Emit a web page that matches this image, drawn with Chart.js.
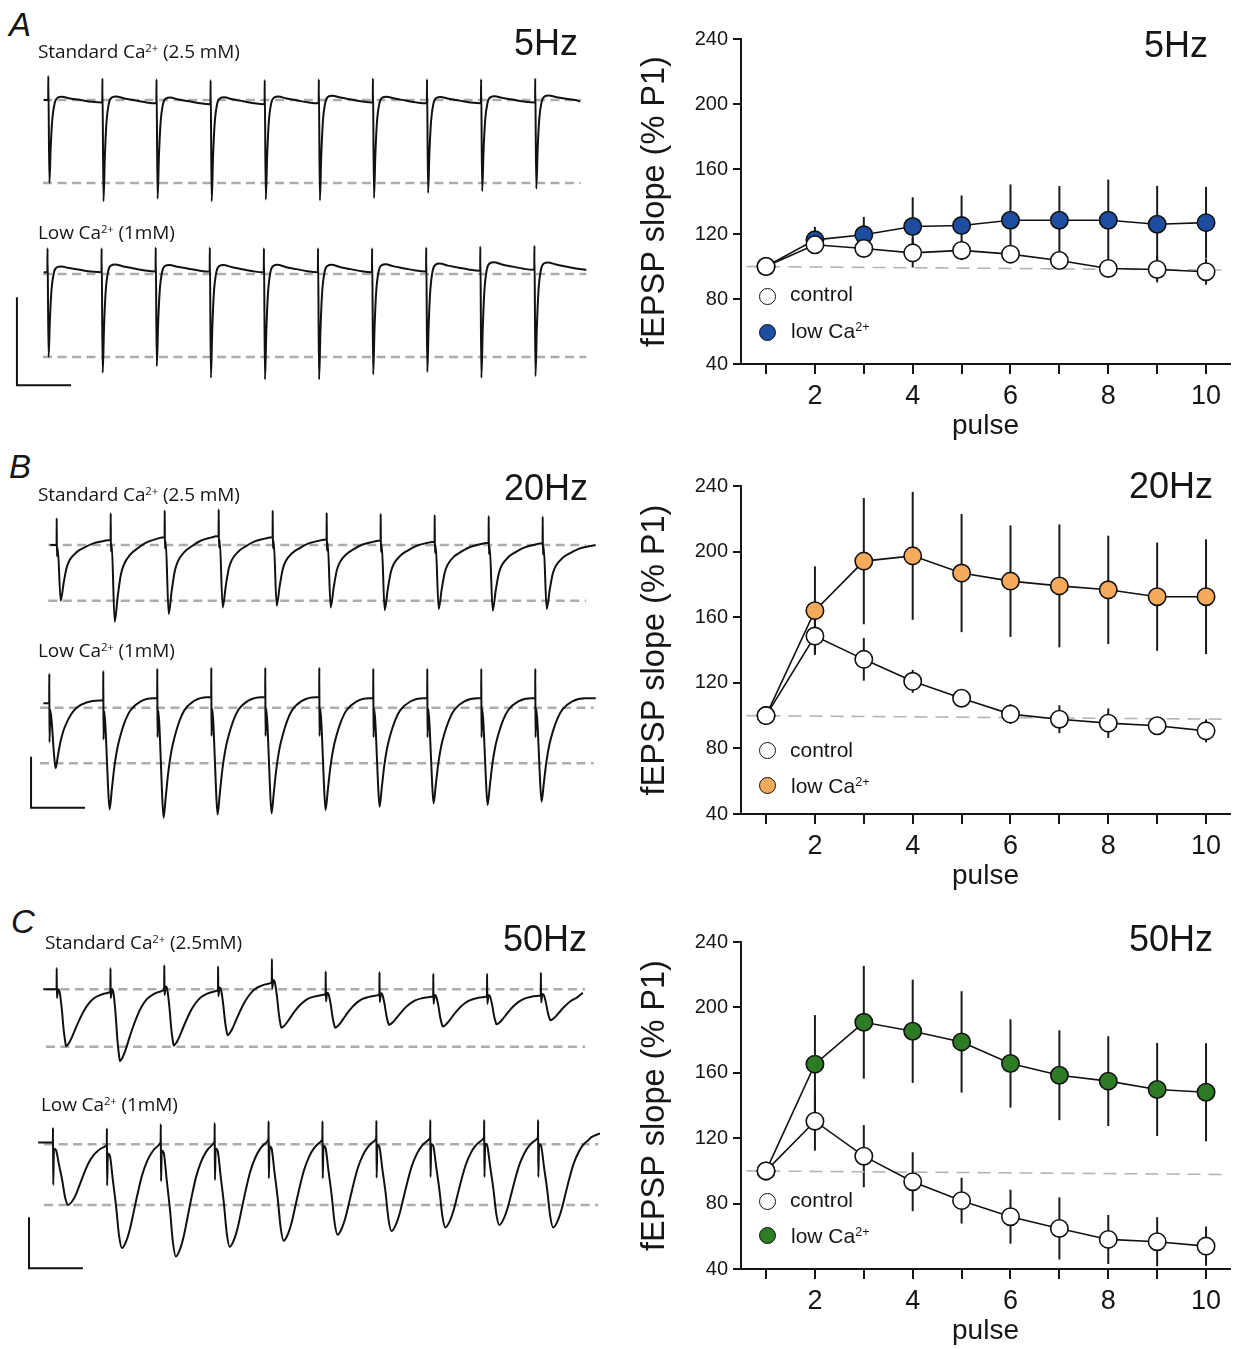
<!DOCTYPE html>
<html><head><meta charset="utf-8">
<script src="https://cdn.jsdelivr.net/npm/chart.js@4.4.1/dist/chart.umd.min.js"></script>
<style>
body{margin:0;background:#fff;}
#fig{position:relative;width:1243px;height:1349px;overflow:hidden;background:#fff;font-family:"Liberation Sans",Arial,sans-serif;color:#161616;}
canvas{position:absolute;}
.t{position:absolute;white-space:nowrap;line-height:1;}
.panel{font-style:italic;font-size:33px;}
.cond{font-family:"Open Sans",sans-serif;font-size:19px;letter-spacing:-0.1px;}
.cond sup,.leg sup{font-size:0.6em;position:relative;top:-0.55em;vertical-align:baseline;line-height:0;}
.hz{font-size:36px;}
.leg{font-size:21px;}
.dot{position:absolute;width:17px;height:17px;box-sizing:border-box;border-radius:50%;border:1.6px solid #111;}
</style></head>
<body><div id="fig">
<canvas id="tStd5" width="600" height="180" style="left:0;top:55px"></canvas>
<canvas id="tLow5" width="600" height="180" style="left:0;top:229px"></canvas>
<canvas id="tStd20" width="600" height="180" style="left:0;top:500px"></canvas>
<canvas id="tLow20" width="600" height="180" style="left:0;top:663px"></canvas>
<canvas id="tStd50" width="600" height="180" style="left:0;top:944px"></canvas>
<canvas id="tLow50" width="600" height="180" style="left:0;top:1099px"></canvas>
<canvas id="r5" width="611" height="426" style="left:632px;top:19px"></canvas>
<canvas id="r20" width="611" height="429" style="left:632px;top:466px"></canvas>
<canvas id="r50" width="611" height="428" style="left:632px;top:922px"></canvas>

<div class="t panel" style="left:9px;top:8px">A</div>
<div class="t panel" style="left:9px;top:450px">B</div>
<div class="t panel" style="left:11px;top:905px">C</div>
<div class="t cond" style="left:38px;top:42px">Standard Ca<sup>2+</sup> (2.5 mM)</div>
<div class="t cond" style="left:38px;top:223px">Low Ca<sup>2+</sup> (1mM)</div>
<div class="t cond" style="left:38px;top:485px">Standard Ca<sup>2+</sup> (2.5 mM)</div>
<div class="t cond" style="left:38px;top:641px">Low Ca<sup>2+</sup> (1mM)</div>
<div class="t cond" style="left:45px;top:933px">Standard Ca<sup>2+</sup> (2.5mM)</div>
<div class="t cond" style="left:41px;top:1095px">Low Ca<sup>2+</sup> (1mM)</div>
<div class="t hz" style="right:665px;top:25px">5Hz</div>
<div class="t hz" style="right:655px;top:470px">20Hz</div>
<div class="t hz" style="right:656px;top:921px">50Hz</div>
<div class="t hz" style="right:35px;top:27px">5Hz</div>
<div class="t hz" style="right:30px;top:468px">20Hz</div>
<div class="t hz" style="right:30px;top:921px">50Hz</div>

<div class="dot" style="left:759px;top:288px;background:#fff"></div>
<div class="t leg" style="left:790px;top:283px">control</div>
<div class="dot" id="d5" style="left:759px;top:324px"></div>
<div class="t leg" style="left:791px;top:320px">low Ca<sup>2+</sup></div>
<div class="dot" style="left:759px;top:742px;background:#fff"></div>
<div class="t leg" style="left:790px;top:739px">control</div>
<div class="dot" id="d20" style="left:759px;top:777px"></div>
<div class="t leg" style="left:791px;top:775px">low Ca<sup>2+</sup></div>
<div class="dot" style="left:759px;top:1193px;background:#fff"></div>
<div class="t leg" style="left:790px;top:1189px">control</div>
<div class="dot" id="d50" style="left:759px;top:1227px"></div>
<div class="t leg" style="left:791px;top:1225px">low Ca<sup>2+</sup></div>
</div>
<script>
// ---------- summary data (fEPSP slope, % of pulse 1) ----------
const pulses = [1,2,3,4,5,6,7,8,9,10];
const yTicks = [40,80,120,160,200,240];
const xTickLabels = ['', '2', '', '4', '', '6', '', '8', '', '10'];

const ctrl5    = [100,113.4,111.1,108.4,109.9,107.6,103.7,98.8,98.2,96.8];
const ctrl5Err = [0,5,4,9,6,5,5,5,8,8];
const low5     = [100,116.4,119.5,124.6,125.2,128.5,128.5,128.5,126,127];
const low5Err  = [0,8,11,18,18.5,22,21,25,23.6,22];

const ctrl20    = [100,148.5,134.3,120.9,110.6,100.9,97.8,95.4,93.8,90.7];
const ctrl20Err = [0,11,13,7,3,6,8.5,9,3,7];
const low20     = [100,164,194.2,197.4,186.9,182,179.1,176.7,172.5,172.5];
const low20Err  = [0,27,38.5,39,36,34,37.5,33,33,35];

const ctrl50    = [100,130.4,109,93.4,81.8,72,64.8,58.1,56.7,54];
const ctrl50Err = [0,18,19,18,14,16.5,19,15,15,12];
const low50     = [100,165.3,190.9,185.4,178.9,165.7,158.5,154.9,149.8,148.1];
const low50Err  = [0,30,34.5,31.6,31,27,27.5,27.5,28.5,30];

const refLineX = [0.6,10.45];
const refLineY = [100,97.8];
const lowColors = ['#1c4d9e','#f6aa5c','#2e7b25'];

// ---------- example traces (amplitude in units of the lower guide line) ----------
const intervalMs = [200,50,20];              // 5, 20, 50 Hz
const troughStd5  = [1.0,1.22,1.19,1.22,1.2,1.21,1.18,1.12,1.1,1.07];
const troughLow5  = [1.0,1.19,1.11,1.25,1.27,1.27,1.21,1.18,1.25,1.23];
const troughStd20 = [1.0,1.38,1.24,1.12,1.09,1.12,1.17,1.15,1.18,1.15];
const troughLow20 = [1.09,1.83,1.98,1.92,1.9,1.84,1.78,1.72,1.75,1.69];
const troughStd50 = [0.99,1.25,0.98,0.8,0.67,0.67,0.62,0.65,0.61,0.54];
const troughLow50 = [1.0,1.71,1.85,1.69,1.59,1.49,1.43,1.37,1.33,1.37];

const restStd5  = [-0.03,-0.04,-0.05,-0.05,-0.04,-0.03,-0.04,-0.04,-0.03,-0.02];
const restLow5  = [0.02,0.03,0.03,0.02,0.02,0.02,0.03,0.04,0.05,0.05];
const restStd20 = [0.09,0.14,0.16,0.14,0.1,0.08,0.06,0.04,0.03,0.0];
const restLow20 = [0.13,0.17,0.19,0.19,0.19,0.17,0.17,0.17,0.17,0.17];
const restStd50 = [0.0,0.05,0.03,0.16,-0.06,-0.07,-0.1,-0.1,-0.08,-0.06];
const restLow50 = [0.02,0.09,0.11,0.14,0.14,0.15,0.16,0.16,0.16,0.18];
const preLevel  = [0,0.02,0,0.08,0,0.03];     // std5, low5, std20, low20, std50, low50

// stimulus artifact [up, down]
const artStd5=[0.29,0], artLow5=[0.29,0], artStd20=[0.48,0.2], artLow20=[0.53,0.7], artStd50=[0.37,0.15], artLow50=[0.24,0.7];

// response shape after each stimulus: [ms after stimulus, fraction of trough]
const kernel5 = [[4,1],[9,0.55],[15,0.2],[24,0],[35,-0.06],[50,-0.07],[80,-0.05],[120,-0.03],[160,-0.01],[198,0]];
const kernelStd20 = [[0.9,0.05],[3.7,1],[6.5,0.7],[9.3,0.45],[12,0.33],[18.5,0.2],[25,0.13],[33.3,0.06],[42.6,0.02],[49.5,0]];
const kernelLow20 = [[0.9,0.1],[2.3,0.3],[4.2,0.75],[5.8,1],[7.9,0.82],[10.2,0.62],[13,0.45],[16,0.33],[20.4,0.2],[25,0.11],[34.3,0.03],[46.3,0],[49.5,0]];
const kernelStd50 = [[0.56,0],[1.1,0.05],[1.9,0.35],[2.6,0.72],[3.2,0.93],[3.5,1],[4.5,0.95],[5.6,0.85],[7.1,0.68],[8.6,0.52],[10.1,0.38],[11.6,0.27],[13.5,0.17],[15.7,0.11],[18.3,0.07],[19.8,0.05]];
const kernelLow50 = [[0.37,0.1],[1.1,0.12],[2.2,0.35],[3.4,0.6],[4.5,0.88],[5.6,1],[7.1,0.94],[8.6,0.82],[10.1,0.65],[11.6,0.48],[13.1,0.33],[15,0.2],[16.8,0.12],[18.7,0.07],[19.8,0.04]];

// [start, end] of trace and of guide lines, ms from first stimulus
const spanStd5=[-16,1966], spanLow5=[-14,1992], spanStd20=[-6,499], spanLow20=[-5.5,506], spanStd50=[-5,195.6], spanLow50=[-5.5,203];
const dashStd5=[-19.6,1969], dashLow5=[-16.6,1992], dashStd20=[-7.8,490], dashLow20=[-8.6,504], dashStd50=[-4,196.4], dashLow50=[-3.3,202.3];
// scale bars [x ms, y units, length ms, length units]
const bar5=[-113,-1.34,200,1.06], bar20=[-16.9,-1.8,50,0.92], bar50=[-8.9,-2.04,20,0.84];

// ---------- layout (pixels) ----------
const traceLayout = [
  {id:'tStd5', top:55, base:100, unit:83, p1:48.3, step:54.1, f:0, tr:troughStd5, rest:restStd5, art:artStd5, k:kernel5, span:spanStd5, dash:dashStd5},
  {id:'tLow5', top:229, base:274, unit:83, p1:47.5, step:54.1, f:0, tr:troughLow5, rest:restLow5, art:artLow5, k:kernel5, span:spanLow5, dash:dashLow5, bar:bar5},
  {id:'tStd20', top:500, base:545, unit:55.7, p1:56.7, step:54, f:1, tr:troughStd20, rest:restStd20, art:artStd20, k:kernelStd20, span:spanStd20, dash:dashStd20},
  {id:'tLow20', top:663, base:707.7, unit:55.6, p1:49.3, step:54, f:1, tr:troughLow20, rest:restLow20, art:artLow20, k:kernelLow20, span:spanLow20, dash:dashLow20, bar:bar20},
  {id:'tStd50', top:944, base:989.3, unit:57.4, p1:56.7, step:53.8, f:2, tr:troughStd50, rest:restStd50, art:artStd50, k:kernelStd50, span:spanStd50, dash:dashStd50},
  {id:'tLow50', top:1099, base:1144.3, unit:60.7, p1:53, step:53.9, f:2, tr:troughLow50, rest:restLow50, art:artLow50, k:kernelLow50, span:spanLow50, dash:dashLow50, bar:bar50}
];

function buildTrace(L, pre) {
  const iv = intervalMs[L.f];
  const pts = [{x:L.span[0], y:pre}];
  let lastE = pre;
  for (let i=0;i<L.tr.length;i++){
    const t0 = i*iv, s = i===0 ? pre : L.rest[i-1], e = L.rest[i], d = L.tr[i];
    pts.push({x:t0-0.002*iv, y:s});
    pts.push({x:t0, y:s+L.art[0]});
    if (L.art[1]) pts.push({x:t0+0.004*iv, y:s-L.art[1]});
    let after=false;
    for (const [dt,f] of L.k){
      const t=t0+dt; if (t>L.span[1]) break;
      const lvl = after ? e : s;
      pts.push({x:t, y:lvl + f*(-d-lvl)});
      if (f===1) after=true;
    }
    lastE = e;
  }
  const last = pts[pts.length-1];
  if (last.x < L.span[1]) pts.push({x:L.span[1], y:lastE});
  return pts;
}

traceLayout.forEach((L, idx) => {
  const cv = document.getElementById(L.id);
  const iv = intervalMs[L.f];
  const msPerPx = iv / L.step;
  const H = cv.height;
  const ds = [];
  ds.push({data:buildTrace(L, preLevel[idx]), borderColor:'#111', borderWidth:2, pointRadius:0, cubicInterpolationMode:'monotone', order:0});
  [0,-1].forEach(v => ds.push({data:[{x:L.dash[0],y:v},{x:L.dash[1],y:v}], borderColor:'#acacac', borderWidth:2.6, borderDash:[9,5.5], pointRadius:0, order:5}));
  if (L.bar) {
    const b = L.bar;
    ds.push({data:[{x:b[0],y:b[1]+b[3]},{x:b[0],y:b[1]},{x:b[0]+b[2],y:b[1]}], borderColor:'#111', borderWidth:2, pointRadius:0, order:1});
  }
  new Chart(cv, {
    type:'line',
    data:{datasets:ds},
    options:{
      responsive:false, animation:false, events:[],
      layout:{padding:0},
      plugins:{legend:{display:false}, tooltip:{enabled:false}},
      scales:{
        x:{type:'linear', display:false, min:-L.p1*msPerPx, max:(cv.width-L.p1)*msPerPx},
        y:{type:'linear', display:false, min:-(L.top+H-L.base)/L.unit, max:(L.base-L.top)/L.unit}
      }
    }
  });
});

// ---------- summary charts ----------
const errorBars = {
  id:'errorBars',
  beforeDatasetsDraw(chart){
    const {ctx, scales:{x,y}} = chart;
    ctx.save();
    ctx.strokeStyle = '#1a1a1a'; ctx.lineWidth = 2;
    chart.data.datasets.forEach(ds => {
      if (!ds.errors) return;
      ds.data.forEach((p,i) => {
        const e = ds.errors[i]; if (!e) return;
        const px = x.getPixelForValue(p.x);
        ctx.beginPath();
        ctx.moveTo(px, y.getPixelForValue(p.y+e));
        ctx.lineTo(px, y.getPixelForValue(p.y-e));
        ctx.stroke();
      });
    });
    ctx.restore();
  }
};
const FONT = '"Liberation Sans", Arial, sans-serif';
function makeSummary(id, ctrl, ctrlErr, low, lowErr, color){
  const cv = document.getElementById(id);
  new Chart(cv, {
    type:'line',
    data:{datasets:[
      {label:'control', data:pulses.map((p,i)=>({x:p,y:ctrl[i]})), errors:ctrlErr, borderColor:'#111', borderWidth:1.6,
        pointRadius:8.7, pointBackgroundColor:'#fff', pointBorderColor:'#111', pointBorderWidth:1.6},
      {label:'low Ca2+', data:pulses.map((p,i)=>({x:p,y:low[i]})), errors:lowErr, borderColor:'#111', borderWidth:1.6,
        pointRadius:8.7, pointBackgroundColor:color, pointBorderColor:'#111', pointBorderWidth:1.6},
      {label:'ref', data:refLineX.map((v,i)=>({x:v,y:refLineY[i]})), borderColor:'#b4b4b4', borderWidth:1.6, borderDash:[13,8], pointRadius:0}
    ]},
    options:{
      responsive:false, animation:false, events:[],
      layout:{padding:{top:20,right:13,left:0,bottom:0}},
      plugins:{legend:{display:false}, tooltip:{enabled:false}},
      scales:{
        x:{type:'linear', min:0.488, max:10.49,
          afterBuildTicks:s=>{ s.ticks = pulses.map(v=>({value:v})); },
          ticks:{autoSkip:false, maxRotation:0, callback:(v,i)=>xTickLabels[i], font:{size:27, family:FONT}, color:'#161616', padding:6},
          grid:{display:true, drawOnChartArea:false, drawTicks:true, tickLength:10, color:'#161616', lineWidth:2},
          border:{display:true, color:'#161616', width:2},
          title:{display:true, text:'pulse', font:{size:28, family:FONT}, color:'#161616', padding:{top:0,bottom:2}},
          afterFit:s=>{ s.height = 81; }
        },
        y:{type:'linear', min:40, max:240,
          afterBuildTicks:s=>{ s.ticks = yTicks.map(v=>({value:v})); },
          ticks:{font:{size:20, family:FONT}, color:'#161616', padding:5},
          grid:{display:true, drawOnChartArea:false, drawTicks:true, tickLength:8, color:'#161616', lineWidth:2},
          border:{display:true, color:'#161616', width:2},
          title:{display:true, text:'fEPSP slope (% P1)', font:{size:32.5, family:FONT}, color:'#161616', padding:{top:4,bottom:0}},
          afterFit:s=>{ s.width = 109; }
        }
      }
    },
    plugins:[errorBars]
  });
}
makeSummary('r5', ctrl5, ctrl5Err, low5, low5Err, lowColors[0]);
makeSummary('r20', ctrl20, ctrl20Err, low20, low20Err, lowColors[1]);
makeSummary('r50', ctrl50, ctrl50Err, low50, low50Err, lowColors[2]);
document.getElementById('d5').style.background = lowColors[0];
document.getElementById('d20').style.background = lowColors[1];
document.getElementById('d50').style.background = lowColors[2];
</script>
</body></html>
